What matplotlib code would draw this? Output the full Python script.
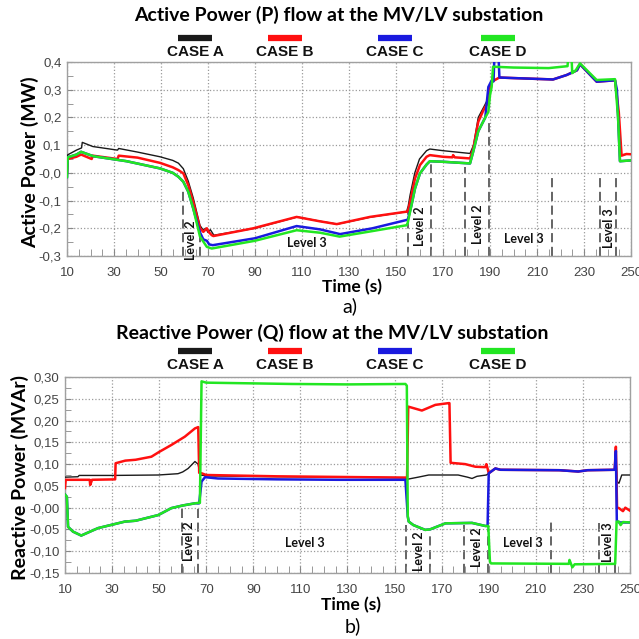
import matplotlib
matplotlib.use("Agg")
import matplotlib.pyplot as plt
from matplotlib.lines import Line2D
from matplotlib.ticker import MultipleLocator, FixedLocator

# ---- data (time in s) ----
cases = ["CASE A", "CASE B", "CASE C", "CASE D"]
case_colors = ["#1a1a1a", "#ff1010", "#1a1adf", "#22e622"]

x_ticks = [10, 30, 50, 70, 90, 110, 130, 150, 170, 190, 210, 230, 250]

# Active power P (MW)
p_a_t = [10, 10.3, 14, 16.2, 16.5, 21, 31.5, 32, 40, 49.6, 55, 57.4, 59.5, 61.6, 63.7, 66.6, 68, 69, 70, 71, 72.5,
         90, 108, 118, 125, 139, 154.5, 155.2, 156, 158, 160, 163, 164.4, 170, 181.5, 183, 185, 187.5, 189.3, 190,
         191, 194, 200, 216.8, 222.6, 227, 228.3, 235.4, 243.2, 244.5, 245.3, 250]
p_a = [0.0, 0.065, 0.082, 0.09, 0.11, 0.095, 0.082, 0.088, 0.075, 0.058, 0.045, 0.035, 0.015, -0.03, -0.09, -0.19,
       -0.207, -0.2, -0.215, -0.205, -0.225, -0.2, -0.159, -0.175, -0.185, -0.16, -0.14, -0.12, -0.08, 0.0, 0.05,
       0.08, 0.086, 0.08, 0.07, 0.1, 0.2, 0.24, 0.27, 0.31, 0.33, 0.344, 0.342, 0.337, 0.353, 0.37, 0.392, 0.329,
       0.334, 0.2, 0.065, 0.068]

p_b_t = [10, 10.3, 14, 16, 20.5, 21, 31.5, 32, 40, 49.6, 55, 57.4, 59.5, 61.6, 63.7, 66.6, 68, 69.5, 70.5, 71.6,
         72.3, 89.3, 107.7, 117.7, 124.8, 138.9, 154.5, 155, 156, 158.1, 160.2, 163, 164.4, 170, 174, 174.3, 175,
         181.5, 182.9, 185, 187.2, 189.3, 190, 191, 194, 200, 216.8, 222.6, 227, 228.3, 235.4, 243.2, 244.8, 246,
         248, 250]
p_b = [0.0, 0.05, 0.058, 0.066, 0.05, 0.062, 0.05, 0.062, 0.055, 0.036, 0.02, 0.01, -0.002, -0.044, -0.105, -0.2,
       -0.213, -0.2, -0.215, -0.225, -0.228, -0.2, -0.159, -0.175, -0.185, -0.159, -0.14, -0.14, -0.105, -0.02,
       0.028, 0.058, 0.064, 0.058, 0.056, 0.064, 0.056, 0.052, 0.088, 0.184, 0.226, 0.256, 0.31, 0.33, 0.344,
       0.342, 0.337, 0.353, 0.37, 0.392, 0.329, 0.334, 0.22, 0.062, 0.068, 0.067]

p_c_t = [10, 10.3, 14, 16, 21.2, 35.4, 49.6, 55, 57.4, 59.5, 61.6, 63.7, 66.6, 68, 69.5, 70.5, 72, 90, 107.7,
         117.7, 126.2, 140, 154.5, 155, 156.5, 158.1, 160.2, 163, 164.4, 170, 181.5, 182.9, 185, 188, 189.3, 190.5,
         191.5, 192, 193.5, 194, 200, 216.8, 222.6, 227, 228.3, 235.4, 243.2, 244, 244.5, 245.3, 250]
p_c = [-0.015, 0.056, 0.066, 0.076, 0.06, 0.042, 0.016, 0.0, -0.014, -0.032, -0.068, -0.128, -0.215, -0.24, -0.245,
       -0.258, -0.261, -0.236, -0.192, -0.204, -0.221, -0.2, -0.17, -0.17, -0.12, -0.056, -0.002, 0.03, 0.042,
       0.04, 0.034, 0.078, 0.15, 0.2, 0.31, 0.33, 0.33, 0.45, 0.45, 0.344, 0.342, 0.337, 0.353, 0.37, 0.392,
       0.329, 0.334, 0.3, 0.2, 0.042, 0.045]

p_d_t = [10, 10.3, 14, 16, 21.2, 35.4, 49.6, 55, 57.4, 59.5, 61.6, 63.7, 66.6, 69.5, 71.6, 90, 107.7, 117.7, 126,
         140, 154.5, 155, 156.5, 158.1, 160.2, 163, 164.4, 170, 181.5, 182.9, 185, 188, 189.3, 190, 190.7, 191.3,
         200, 215, 223, 223.5, 224.5, 225, 226.5, 228.3, 235.4, 243.2, 244.5, 245.3, 250]
p_d = [-0.015, 0.056, 0.066, 0.076, 0.06, 0.042, 0.016, 0.0, -0.014, -0.032, -0.068, -0.128, -0.23, -0.267,
       -0.273, -0.245, -0.207, -0.216, -0.23, -0.21, -0.189, -0.18, -0.12, -0.056, -0.002, 0.03, 0.042, 0.04,
       0.034, 0.078, 0.15, 0.2, 0.22, 0.28, 0.31, 0.383, 0.38, 0.378, 0.385, 0.45, 0.45, 0.36, 0.37, 0.395,
       0.335, 0.338, 0.2, 0.042, 0.045]

# Reactive power Q (MVAr)
q_a_t = [10, 15.5, 16, 30, 49.6, 58, 60, 62.3, 65.2, 66.5, 67.5, 70, 100, 154.6, 155.2, 160, 164.5, 177, 181,
         182.9, 185, 189, 190, 192.8, 195, 220, 228, 232, 243.5, 244, 244.5, 245.3, 246.5, 250]
q_a = [0.07, 0.071, 0.074, 0.074, 0.075, 0.078, 0.082, 0.09, 0.106, 0.1, 0.075, 0.073, 0.071, 0.069, 0.065,
       0.07, 0.075, 0.075, 0.07, 0.067, 0.072, 0.075, 0.079, 0.09, 0.087, 0.086, 0.083, 0.086, 0.087, 0.13,
       0.06, 0.056, 0.075, 0.075]

q_b_t = [10, 10.3, 20.5, 20.7, 21.5, 31.3, 31.5, 35.6, 40, 46.7, 50, 55.2, 60.9, 65.2, 66.6, 67, 68, 70, 100,
         154.6, 155.3, 155.8, 161.6, 167.3, 172.9, 173.3, 173.8, 180, 184.3, 188.5, 189, 189.5, 190, 192.8, 195,
         220, 228, 232, 243.5, 244, 244.5, 245.3, 247, 248, 250]
q_b = [0.045, 0.064, 0.064, 0.052, 0.064, 0.065, 0.102, 0.108, 0.11, 0.117, 0.128, 0.144, 0.163, 0.182, 0.185,
       0.08, 0.079, 0.075, 0.072, 0.069, 0.07, 0.232, 0.223, 0.236, 0.24, 0.24, 0.103, 0.1, 0.094, 0.093, 0.1,
       0.09, 0.079, 0.09, 0.087, 0.086, 0.083, 0.086, 0.087, 0.14, 0.0, -0.001, -0.008, 0.0, -0.007]

q_c_t = [10, 10.8, 11.3, 13.4, 16.9, 24, 35.4, 40, 49.6, 55.2, 60, 65.2, 67, 68, 69.5, 75, 100, 126, 154.6,
         155.6, 156, 158, 163, 165, 171.6, 182.9, 188.5, 189.5, 190, 192.8, 195, 220, 228, 232, 243.5, 244,
         244.4, 245.3, 250]
q_c = [0.03, 0.025, -0.044, -0.055, -0.064, -0.047, -0.032, -0.03, -0.017, -0.001, 0.005, 0.01, 0.01, 0.06,
       0.07, 0.067, 0.065, 0.064, 0.064, -0.02, -0.032, -0.04, -0.051, -0.05, -0.036, -0.035, -0.042, -0.042,
       0.079, 0.09, 0.087, 0.086, 0.083, 0.086, 0.087, 0.13, -0.03, -0.034, -0.034]

q_d_t = [10, 10.8, 11.3, 13.4, 16.9, 24, 35.4, 40, 49.6, 55.2, 60, 65.2, 66.6, 67.3, 68, 70, 106.3, 130, 154.6,
         155.2, 155.6, 156, 158, 163, 165, 171.6, 182.9, 188.5, 189.8, 190.5, 191, 224, 224.3, 225.5, 226.5,
         243.7, 244.3, 245.3, 246, 247, 250]
q_d = [0.03, 0.025, -0.044, -0.055, -0.064, -0.047, -0.032, -0.03, -0.017, -0.001, 0.005, 0.01, 0.011, 0.011,
       0.29, 0.287, 0.284, 0.283, 0.284, 0.28, -0.02, -0.032, -0.04, -0.051, -0.05, -0.036, -0.035, -0.042,
       -0.042, -0.124, -0.128, -0.129, -0.12, -0.137, -0.13, -0.129, -0.032, -0.032, -0.04, -0.033, -0.034]

# control level markers: x position, top of dashed line
level_x = [59.5, 66.5, 155, 165, 179.5, 189.5, 216.5, 237, 243.5]
p_level_top = [-0.058, -0.23, -0.14, 0.034, 0.022, 0.196, -0.002, -0.002, 0.0]
q_level_top = [0.006, 0.008, -0.04, -0.055, -0.04, -0.05, -0.034, -0.035, -0.13]
level_text = ["Level 2", "Level 3", "Level 2", "Level 2", "Level 3", "Level 3"]
level_text_x = [62.8, 112, 160.3, 185, 204.5, 240.6]
level_text_rot = [90, 0, 90, 90, 0, 90]
p_level_text_y = [-0.243, -0.253, -0.192, -0.185, -0.237, -0.2]
q_level_text_y = [-0.076, -0.08, -0.1, -0.091, -0.082, -0.08]

p_yticks = [-0.3, -0.2, -0.1, 0.0, 0.1, 0.2, 0.3, 0.4]
p_ylabels = ["-0,3", "-0,2", "-0,1", "-0,0", "0,1", "0,2", "0,3", "0,4"]
q_yticks = [-0.15, -0.10, -0.05, 0.0, 0.05, 0.10, 0.15, 0.20, 0.25, 0.30]
q_ylabels = ["-0,15", "-0,10", "-0,05", "-0,00", "0,05", "0,10", "0,15", "0,20", "0,25", "0,30"]

W = 639
fig = plt.figure(figsize=(6.39, 6.39), dpi=100)


def fx(px):
    return px / W


def fy(py):
    return 1 - py / W


def setup_axes(ax, yticks, ylabels, yminor):
    ax.set_xlim(10, 250)
    ax.set_ylim(yticks[0], yticks[-1])
    ax.xaxis.set_major_locator(FixedLocator(x_ticks))
    ax.set_xticklabels([str(v) for v in x_ticks])
    ax.xaxis.set_minor_locator(MultipleLocator(5))
    ax.yaxis.set_major_locator(FixedLocator(yticks))
    ax.set_yticklabels(ylabels)
    ax.yaxis.set_minor_locator(MultipleLocator(yminor))
    ax.tick_params(axis="both", which="both", direction="in", colors="#888888",
                   labelcolor="#444444", labelsize=9.5)
    ax.tick_params(axis="x", which="both", length=5, pad=8)
    ax.tick_params(axis="y", which="both", length=4, pad=4)
    for lab in ax.get_xticklabels() + ax.get_yticklabels():
        lab.set_family("Liberation Sans")
    ax.grid(True, which="major", ls=":", color="#9a9a9a", lw=0.9)
    for s in ax.spines.values():
        s.set_color("#a0a0a0")
        s.set_linewidth(1.0)


def draw_panel(ax, series, level_top, text_y):
    ax.vlines(level_x, ax.get_ylim()[0], level_top, colors="#3a3a3a", linestyles=(0, (6, 3)), lw=1.1, zorder=1)
    widths = [1.0, 1.8, 1.8, 1.8]
    for (t, v), c, w in zip(series, case_colors, widths):
        ax.plot(t, v, color=c, lw=w, zorder=3)
    for s, x, y, r in zip(level_text, level_text_x, text_y, level_text_rot):
        ax.text(x, y, s, rotation=r, ha="center", va="center", fontsize=9, fontweight="bold",
                family="Lato", color="#111111", zorder=4)


def legend(py_bar, py_text):
    centers = [195, 285, 395, 498]
    for name, c, cx in zip(cases, case_colors, centers):
        fig.add_artist(Line2D([fx(cx - 17), fx(cx + 17)], [fy(py_bar), fy(py_bar)],
                              color=c, lw=4.5, solid_capstyle="butt"))
        fig.text(fx(cx), fy(py_text), name, ha="center", va="center", fontsize=11,
                 fontweight="bold", family="Liberation Sans", color="#111111")


# ---- a) active power ----
ax1 = fig.add_axes([fx(67), fy(256), fx(631) - fx(67), fy(62) - fy(256)])
setup_axes(ax1, p_yticks, p_ylabels, 0.05)
draw_panel(ax1, [(p_a_t, p_a), (p_b_t, p_b), (p_c_t, p_c), (p_d_t, p_d)], p_level_top, p_level_text_y)
fig.text(fx(339), fy(15), "Active Power (P) flow at the MV/LV substation", ha="center", va="center",
         fontsize=14, fontweight="bold", family="Lato")
legend(37.5, 52)
fig.text(fx(30), fy(162), "Active Power (MW)", rotation=90, ha="center", va="center",
         fontsize=14, fontweight="bold", family="Lato")
fig.text(fx(352), fy(287), "Time (s)", ha="center", va="center", fontsize=12.5, fontweight="bold", family="Lato")
fig.text(fx(350), fy(306), "a)", ha="center", va="center", fontsize=14, family="Lato")

# ---- b) reactive power ----
ax2 = fig.add_axes([fx(65), fy(573), fx(630) - fx(65), fy(377) - fy(573)])
setup_axes(ax2, q_yticks, q_ylabels, 0.025)
draw_panel(ax2, [(q_a_t, q_a), (q_b_t, q_b), (q_c_t, q_c), (q_d_t, q_d)], q_level_top, q_level_text_y)
fig.text(fx(332), fy(333), "Reactive Power (Q) flow at the MV/LV substation", ha="center", va="center",
         fontsize=14, fontweight="bold", family="Lato")
legend(351, 365)
fig.text(fx(20), fy(477), "Reactive Power (MVAr)", rotation=90, ha="center", va="center",
         fontsize=14, fontweight="bold", family="Lato")
fig.text(fx(351), fy(605), "Time (s)", ha="center", va="center", fontsize=12.5, fontweight="bold", family="Lato")
fig.text(fx(353), fy(626), "b)", ha="center", va="center", fontsize=14, family="Lato")

fig.savefig("out.png", dpi=100)
